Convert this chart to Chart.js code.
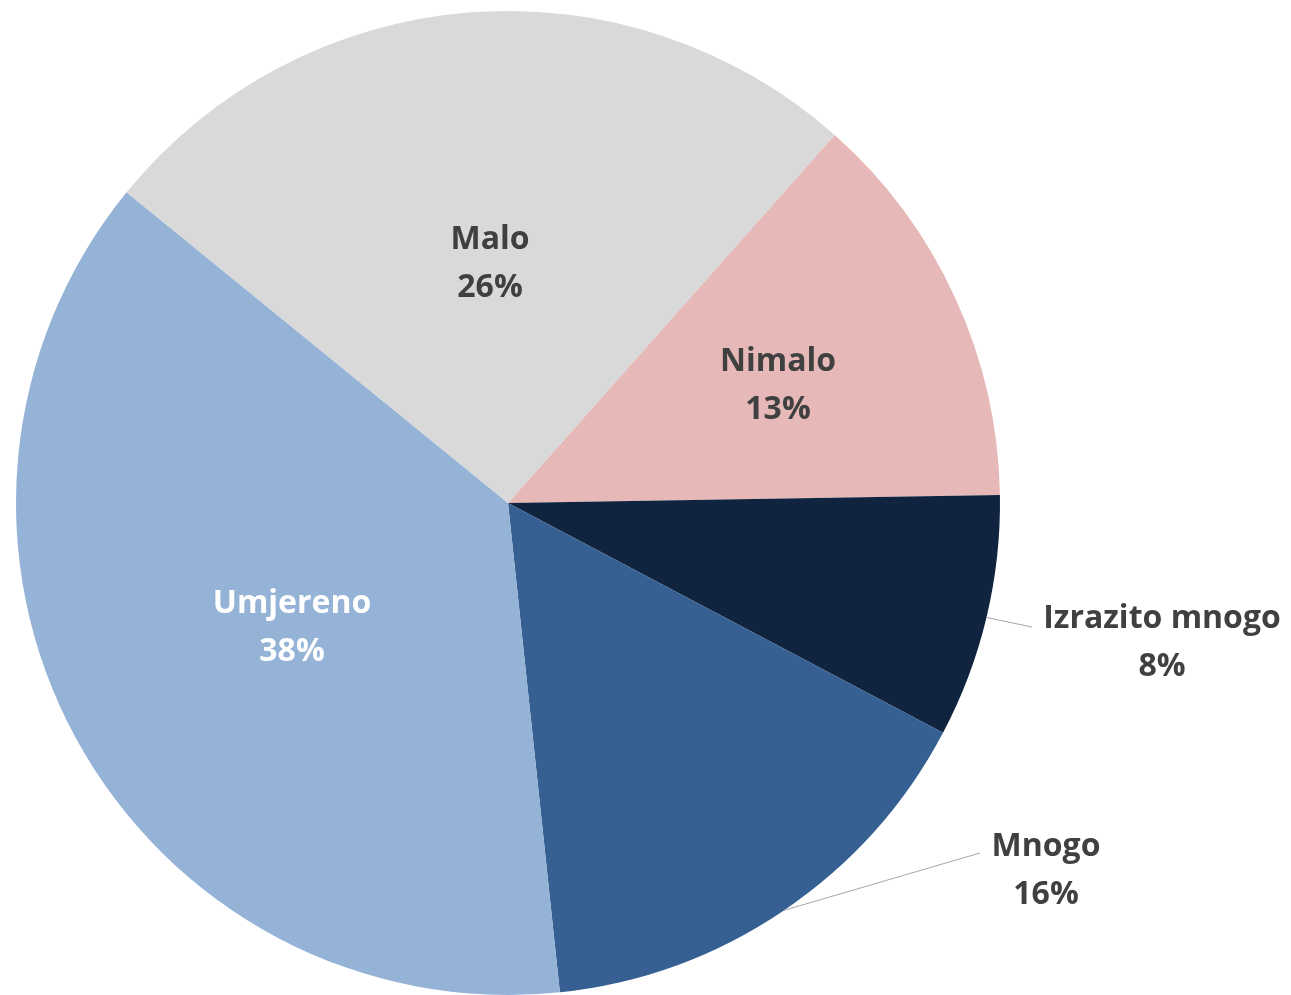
<!DOCTYPE html>
<html>
<head>
<meta charset="utf-8">
<script src="https://cdn.jsdelivr.net/npm/chart.js@4"></script>
<style>
  html, body { margin: 0; padding: 0; background: #fff; overflow: hidden; }
  #wrap { width: 1291px; height: 995px; position: relative; }
</style>
</head>
<body>
<div id="wrap"><canvas id="pie"></canvas></div>
<script>
const categories = ['Nimalo', 'Izrazito mnogo', 'Mnogo', 'Umjereno', 'Malo']
const shares = [13.2, 8.0, 15.6, 37.6, 25.7]
const colors = ['#E6B8B7', '#10243F', '#366092', '#95B3D7', '#D9D9D9']

// label block offset from the pie centre; lx/ly = end of leader line for outside labels
const placement = [
    { dx: 270, dy: -117 },
    { dx: 654, dy: 140, lx: 524, ly: 124 },
    { dx: 538, dy: 368, lx: 472, ly: 350 },
    { dx: -216, dy: 125, color: '#fff' },
    { dx: -18, dy: -239 }
]

const total = shares.reduce((a, b) => a + b, 0)

const labelPlugin = {
    id: 'sliceLabels',
    afterDatasetsDraw(chart) {
        const ctx = chart.ctx
        const meta = chart.getDatasetMeta(0)
        ctx.save()
        ctx.font = 'bold 32px "Open Sans"'
        ctx.textAlign = 'center'
        ctx.textBaseline = 'middle'
        meta.data.forEach((arc, i) => {
            const p = placement[i]
            const mid = (arc.startAngle + arc.endAngle) / 2
            const cx = arc.x, cy = arc.y
            const tx = cx + p.dx
            const ty = cy + p.dy
            if (p.lx !== undefined) {
                ctx.strokeStyle = '#A6A6A6'
                ctx.lineWidth = 1
                ctx.beginPath()
                ctx.moveTo(cx + Math.cos(mid) * arc.outerRadius, cy + Math.sin(mid) * arc.outerRadius)
                ctx.lineTo(cx + p.lx, cy + p.ly)
                ctx.stroke()
            }
            const pct = Math.round(shares[i] / total * 100) + '%'
            ctx.fillStyle = p.color || '#404040'
            ctx.fillText(categories[i], tx, ty - 24)
            ctx.fillText(pct, tx, ty + 24)
        })
        ctx.restore()
    }
}

new Chart(document.getElementById('pie'), {
    type: 'pie',
    data: {
        labels: categories,
        datasets: [{
            data: shares,
            backgroundColor: colors,
            borderWidth: 0
        }]
    },
    options: {
        responsive: true,
        maintainAspectRatio: false,
        animation: false,
        rotation: 41.6,
        layout: { padding: { left: 15, right: 290, top: 11, bottom: 0 } },
        plugins: {
            legend: { display: false },
            tooltip: { enabled: false }
        }
    },
    plugins: [labelPlugin]
})
</script>
</body>
</html>
